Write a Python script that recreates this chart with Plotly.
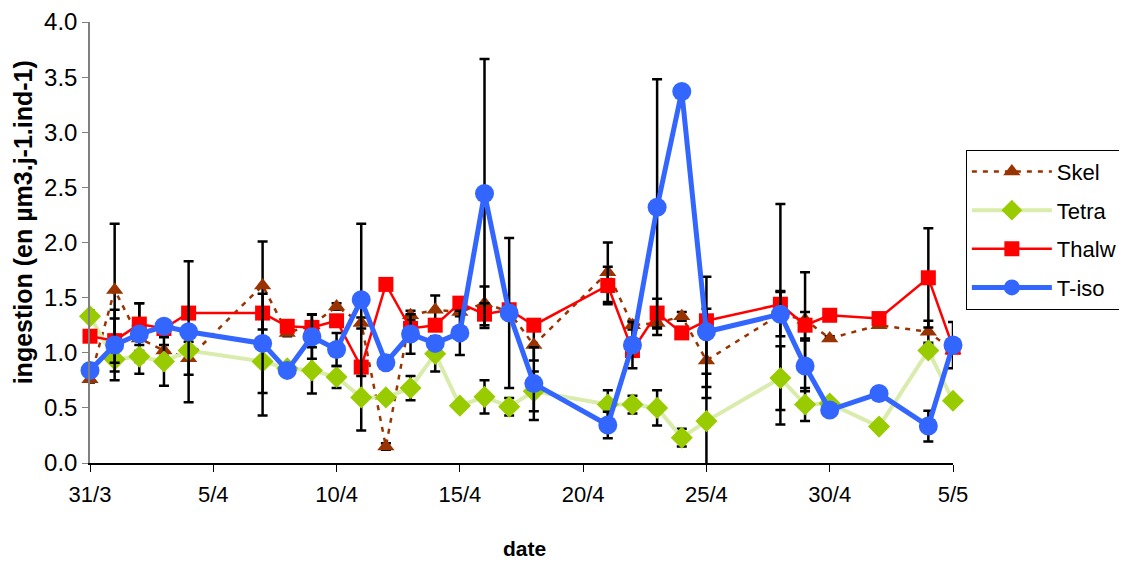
import plotly.graph_objects as go

dates = ["2008-03-31", "2008-04-01", "2008-04-02", "2008-04-03", "2008-04-04", "2008-04-07",
         "2008-04-08", "2008-04-09", "2008-04-10", "2008-04-11", "2008-04-12", "2008-04-13",
         "2008-04-14", "2008-04-15", "2008-04-16", "2008-04-17", "2008-04-18", "2008-04-21",
         "2008-04-22", "2008-04-23", "2008-04-24", "2008-04-25", "2008-04-28", "2008-04-29",
         "2008-04-30", "2008-05-02", "2008-05-04", "2008-05-05"]

skel = [0.76, 1.57, 1.13, 1.02, 0.95, 1.61, 1.18, 1.25, 1.42, 1.27, 0.15, 1.34, 1.39, 1.37,
        1.45, 1.37, 1.07, 1.73, 1.25, 1.27, 1.33, 0.93, 1.35, 1.30, 1.13, 1.25, 1.19, 1.02]
skel_err = [0.03, 0.6, 0.32, 0.05, 0.15, 0.4, 0.03, 0.1, 0.03, 0.05, 0.03, 0.04, 0.13, 0.04,
            0.15, 0.04, 0.14, 0.27, 0.04, 0.05, 0.04, 0.34, 1.0, 0.43, 0.02, 0.02, 0.1, 0.04]

tetra = [1.33, 0.94, 0.965, 0.92, 1.02, 0.92, 0.86, 0.84, 0.78, 0.595, 0.595, 0.68, 0.99, 0.52,
         0.60, 0.51, 0.65, 0.53, 0.53, 0.50, 0.23, 0.38, 0.77, 0.53, 0.54, 0.33, 1.02, 0.565]
tetra_err = [0.05, 0.11, 0.05, 0.22, 0.03, 0.49, 0.03, 0.21, 0.1, 0.3, 0.03, 0.11, 0.16, 0.03,
             0.15, 0.08, 0.18, 0.13, 0.08, 0.16, 0.08, 0.43, 0.29, 0.15, 0.03, 0.03, 0.05, 0.03]

thalw = [1.15, 1.11, 1.26, 1.22, 1.36, 1.36, 1.24, 1.23, 1.29, 0.87, 1.62, 1.22, 1.25, 1.45,
         1.35, 1.39, 1.25, 1.61, 1.02, 1.36, 1.18, 1.29, 1.44, 1.25, 1.34, 1.31, 1.68, 1.05]
thalw_err = [0.03, 0.2, 0.19, 0.03, 0.03, 0.03, 0.03, 0.03, 0.03, 0.03, 0.03, 0.03, 0.03, 0.03,
             0.1, 0.03, 0.03, 0.17, 0.03, 0.13, 0.03, 0.11, 0.12, 0.12, 0.03, 0.03, 0.45, 0.03]

tiso = [0.84, 1.07, 1.17, 1.24, 1.19, 1.085, 0.84, 1.145, 1.03, 1.48, 0.91, 1.17, 1.085, 1.18,
        2.445, 1.36, 0.72, 0.345, 1.07, 2.32, 3.37, 1.19, 1.35, 0.88, 0.48, 0.63, 0.335, 1.07]
tiso_err = [0.03, 0.32, 0.05, 0.03, 0.64, 0.45, 0.03, 0.2, 0.15, 0.69, 0.03, 0.18, 0.05, 0.2,
            1.22, 0.68, 0.33, 0.12, 0.21, 1.16, 0.03, 0.5, 0.2, 0.23, 0.03, 0.03, 0.14, 0.21]

tick_vals = ["2008-03-31", "2008-04-05", "2008-04-10", "2008-04-15", "2008-04-20",
             "2008-04-25", "2008-04-30", "2008-05-05"]
tick_text = ["31/3", "5/4", "10/4", "15/4", "20/4", "25/4", "30/4", "5/5"]

FONT = "Liberation Sans, Arial, sans-serif"
NARROW = "Liberation Sans Narrow, Arial Narrow, Liberation Sans, Arial, sans-serif"


def err(vals):
    return dict(type="data", array=vals, visible=True, color="black", thickness=2.5, width=5)


fig = go.Figure()
fig.add_trace(go.Scatter(
    x=dates, y=skel, name="Skel", mode="lines+markers", legendgroup="a",
    line=dict(color="#993300", width=2.5, dash="5px,6px"),
    marker=dict(symbol="triangle-up", size=15, color="#993300"),
    error_y=err(skel_err), cliponaxis=False))
fig.add_trace(go.Scatter(
    x=dates, y=tetra, name="Tetra", mode="lines+markers", legendgroup="b",
    line=dict(color="#d9ecac", width=4),
    marker=dict(symbol="diamond", size=17, color="#99CC00"),
    error_y=err(tetra_err), cliponaxis=False))
fig.add_trace(go.Scatter(
    x=dates, y=thalw, name="Thalw", mode="lines+markers", legendgroup="c",
    line=dict(color="#FF0000", width=2.5),
    marker=dict(symbol="square", size=15, color="#FF0000"),
    error_y=err(thalw_err), cliponaxis=False))
fig.add_trace(go.Scatter(
    x=dates, y=tiso, name="T-iso", mode="lines+markers", legendgroup="d",
    line=dict(color="#3366FF", width=5),
    marker=dict(symbol="circle", size=19, color="#3366FF"),
    error_y=err(tiso_err), cliponaxis=False))

fig.update_layout(
    width=1119, height=554,
    margin=dict(l=82, r=174, t=14, b=99),
    paper_bgcolor="white", plot_bgcolor="white",
    font=dict(family=FONT, size=17, color="black"),
    legend=dict(xref="container", yref="container", x=0.856, y=0.744,
                xanchor="left", yanchor="top",
                bordercolor="black", borderwidth=1, bgcolor="white",
                font=dict(size=22), itemwidth=80, tracegroupgap=7),
    xaxis=dict(type="date", range=["2008-03-31", "2008-05-05"], automargin=False,
               tickvals=tick_vals, ticktext=tick_text,
               ticks="outside", ticklen=7, tickcolor="black", tickwidth=1,
               ticklabelstandoff=4,
               showline=True, linecolor="black", linewidth=1.5,
               showgrid=False, zeroline=False,
               tickfont=dict(size=22, family=NARROW)),
    yaxis=dict(range=[0, 4.0], dtick=0.5, tickformat=".1f", automargin=False,
               ticks="outside", ticklen=6, tickcolor="#808080",
               showline=True, linecolor="#808080", linewidth=1.5,
               showgrid=False, zeroline=False,
               tickfont=dict(size=24)),
    annotations=[
        dict(text="<b>ingestion (en µm3.j-1.ind-1)</b>", textangle=-90,
             xref="paper", yref="paper", x=-0.078, y=0.545,
             xanchor="center", yanchor="middle", showarrow=False,
             font=dict(size=25)),
        dict(text="<b>date</b>", xref="paper", yref="paper", x=0.503, y=-0.193,
             xanchor="center", yanchor="middle", showarrow=False,
             font=dict(size=21, family=NARROW)),
    ],
)

fig.write_html("out.html")
